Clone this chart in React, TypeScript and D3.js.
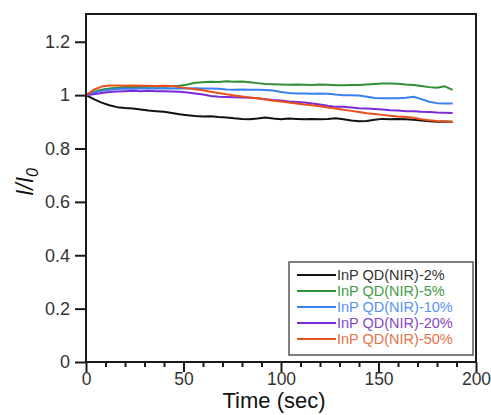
import * as React from "react"
import * as d3 from "d3"

const times = [
  0, 4, 8, 12, 16, 20, 24, 28, 32, 36, 40, 44, 48, 52, 56, 60, 64, 68, 72, 76,
  80, 84, 88, 92, 96, 100, 104, 108, 112, 116, 120, 124, 128, 132, 136, 140,
  144, 148, 152, 156, 160, 164, 168, 172, 176, 180, 184, 188,
]

const qd2 = [
  1.0, 0.985, 0.972, 0.962, 0.955, 0.952, 0.95, 0.946, 0.942, 0.94, 0.938,
  0.933, 0.928, 0.925, 0.922, 0.92, 0.921, 0.918, 0.916, 0.913, 0.911, 0.91,
  0.912, 0.916, 0.912, 0.91, 0.912, 0.911, 0.91, 0.911, 0.91, 0.911, 0.913,
  0.91, 0.905, 0.902, 0.903, 0.908, 0.911, 0.91, 0.911, 0.91, 0.908, 0.905,
  0.902, 0.9, 0.901, 0.9,
]
const qd5 = [
  1.0, 1.012, 1.02, 1.025, 1.028, 1.03, 1.031, 1.03, 1.031, 1.032, 1.031,
  1.033, 1.035, 1.04, 1.046, 1.048, 1.05, 1.049, 1.052, 1.05, 1.051, 1.048,
  1.045, 1.042, 1.041, 1.04, 1.039, 1.04, 1.039, 1.038, 1.04, 1.039, 1.037,
  1.037, 1.038, 1.038, 1.04, 1.042, 1.044, 1.044, 1.043, 1.04, 1.038, 1.034,
  1.03, 1.028, 1.033, 1.02,
]
const qd10 = [
  1.0, 1.01, 1.016, 1.02, 1.023, 1.025, 1.024, 1.025, 1.026, 1.025, 1.026,
  1.025, 1.026, 1.025, 1.026, 1.025, 1.025, 1.024, 1.021, 1.02, 1.021, 1.02,
  1.02, 1.019, 1.017, 1.012, 1.008, 1.006, 1.006, 1.005, 1.006, 1.005, 1.002,
  1.0, 1.0, 0.999, 0.994, 0.989, 0.988, 0.988, 0.988, 0.99, 0.994, 0.985,
  0.975, 0.97, 0.969, 0.969,
]
const qd20 = [
  1.0, 1.003, 1.008, 1.012, 1.014, 1.015, 1.016, 1.015, 1.016, 1.015, 1.015,
  1.014, 1.013, 1.01, 1.006, 1.002, 0.997, 0.994, 0.993, 0.992, 0.991, 0.99,
  0.988, 0.985, 0.982, 0.98, 0.976, 0.974, 0.972, 0.969, 0.965, 0.96, 0.956,
  0.956, 0.954, 0.951, 0.95, 0.948, 0.946, 0.943, 0.942, 0.94, 0.94, 0.938,
  0.937, 0.935, 0.934, 0.933,
]
const qd50 = [
  1.0, 1.02, 1.032, 1.036, 1.036, 1.035, 1.036, 1.035, 1.035, 1.034, 1.035,
  1.034, 1.03, 1.026, 1.022, 1.018, 1.013, 1.008, 1.003, 0.999, 0.995, 0.991,
  0.988, 0.984, 0.979, 0.976, 0.972, 0.969, 0.965, 0.962, 0.958, 0.954, 0.95,
  0.945, 0.941, 0.937, 0.932, 0.929, 0.926, 0.923, 0.92, 0.918, 0.915, 0.91,
  0.906, 0.903, 0.901, 0.899,
]

const seriesNames = [
  "InP QD(NIR)-2%",
  "InP QD(NIR)-5%",
  "InP QD(NIR)-10%",
  "InP QD(NIR)-20%",
  "InP QD(NIR)-50%",
]
const seriesValues = [qd2, qd5, qd10, qd20, qd50]
const lineColors = ["#111111", "#2f8f36", "#3a80f0", "#7a2ad6", "#e8501c"]
const textColors = ["#333333", "#3f9c45", "#5a93ee", "#8648c6", "#e2734a"]

const yTicks = [0, 0.2, 0.4, 0.6, 0.8, 1, 1.2]
const xTicks = [0, 50, 100, 150, 200]
const xMinorTicks = [10, 20, 30, 40, 60, 70, 80, 90, 110, 120, 130, 140, 160, 170, 180, 190]

function render(svgRef: React.RefObject<SVGSVGElement>) {
  const width = 491
  const height = 415
  const margin = { top: 14, right: 15, bottom: 53, left: 86 }
  const w = width - margin.left - margin.right
  const h = height - margin.top - margin.bottom

  const svg = d3.select(svgRef.current).attr("width", width).attr("height", height)
  svg.selectAll("*").remove()
  const g = svg.append("g").attr("transform", `translate(${margin.left},${margin.top})`)

  const x = d3.scaleLinear().domain([0, 200]).range([0, w])
  const y = d3.scaleLinear().domain([0, 1.304]).range([h, 0])

  const font = "'Liberation Sans', Arial, sans-serif"

  // lines
  const line = d3
    .line<number>()
    .x((_d, i) => x(times[i]))
    .y((d) => y(d))

  seriesValues.forEach((vals, k) => {
    g.append("path")
      .datum(vals)
      .attr("d", line)
      .attr("fill", "none")
      .attr("stroke", lineColors[k])
      .attr("stroke-width", 2)
      .attr("stroke-linejoin", "round")
  })

  // frame
  g.append("rect")
    .attr("x", 0)
    .attr("y", 0)
    .attr("width", w)
    .attr("height", h)
    .attr("fill", "none")
    .attr("stroke", "#1a1a1a")
    .attr("stroke-width", 2)

  // y axis
  const yAxis = g
    .append("g")
    .call(d3.axisLeft(y).tickValues(yTicks).tickSize(11).tickPadding(5).tickFormat(d3.format("~g")))
  yAxis.select(".domain").remove()
  yAxis.selectAll(".tick line").attr("stroke", "#1a1a1a").attr("stroke-width", 2)
  yAxis
    .selectAll(".tick text")
    .attr("font-family", font)
    .attr("font-size", 18)
    .attr("fill", "#333")

  // x axis minor ticks
  const xMinor = g
    .append("g")
    .attr("transform", `translate(0,${h})`)
    .call(d3.axisBottom(x).tickValues(xMinorTicks).tickSize(5).tickFormat(() => ""))
  xMinor.select(".domain").remove()
  xMinor.selectAll(".tick line").attr("stroke", "#1a1a1a").attr("stroke-width", 2)

  const xAxis = g
    .append("g")
    .attr("transform", `translate(0,${h})`)
    .call(d3.axisBottom(x).tickValues(xTicks).tickSize(10).tickPadding(1))
  xAxis.select(".domain").remove()
  xAxis.selectAll(".tick line").attr("stroke", "#1a1a1a").attr("stroke-width", 2)
  xAxis
    .selectAll(".tick text")
    .attr("font-family", font)
    .attr("font-size", 17.5)
    .attr("fill", "#333")

  // axis titles
  g.append("text")
    .attr("x", 274 - margin.left)
    .attr("y", 408 - margin.top)
    .attr("text-anchor", "middle")
    .attr("font-family", font)
    .attr("font-size", 22)
    .attr("fill", "#111")
    .text("Time (sec)")

  const yl = g
    .append("text")
    .attr("transform", `translate(${33 - margin.left},${182 - margin.top}) rotate(-90)`)
    .attr("text-anchor", "middle")
    .attr("font-family", font)
    .attr("font-size", 23)
    .attr("font-style", "italic")
    .attr("fill", "#111")
  yl.append("tspan").text("I/I")
  yl.append("tspan").attr("font-size", 16).attr("dy", 5).text("0")

  // legend
  const lx = 289 - margin.left
  const ly = 262 - margin.top
  const legend = g.append("g").attr("transform", `translate(${lx},${ly})`)
  legend
    .append("rect")
    .attr("width", 184)
    .attr("height", 93)
    .attr("fill", "#fff")
    .attr("stroke", "#555")
    .attr("stroke-width", 1.5)
  seriesNames.forEach((name, k) => {
    const cy = 13 + k * 16
    legend
      .append("line")
      .attr("x1", 8)
      .attr("x2", 47)
      .attr("y1", cy)
      .attr("y2", cy)
      .attr("stroke", lineColors[k])
      .attr("stroke-width", 2)
    legend
      .append("text")
      .attr("x", 48)
      .attr("y", cy)
      .attr("dy", "0.35em")
      .attr("font-family", font)
      .attr("font-size", 14.5)
      .attr("fill", textColors[k])
      .text(name)
  })
}

export default function App(): React.JSX.Element {
  const svg = React.useRef<SVGSVGElement>(null)

  React.useEffect(() => {
    render(svg)
  }, [])

  return (
    <svg ref={svg} style={{ position: "absolute", left: 0, top: 0, background: "#fff" }}></svg>
  )
}
